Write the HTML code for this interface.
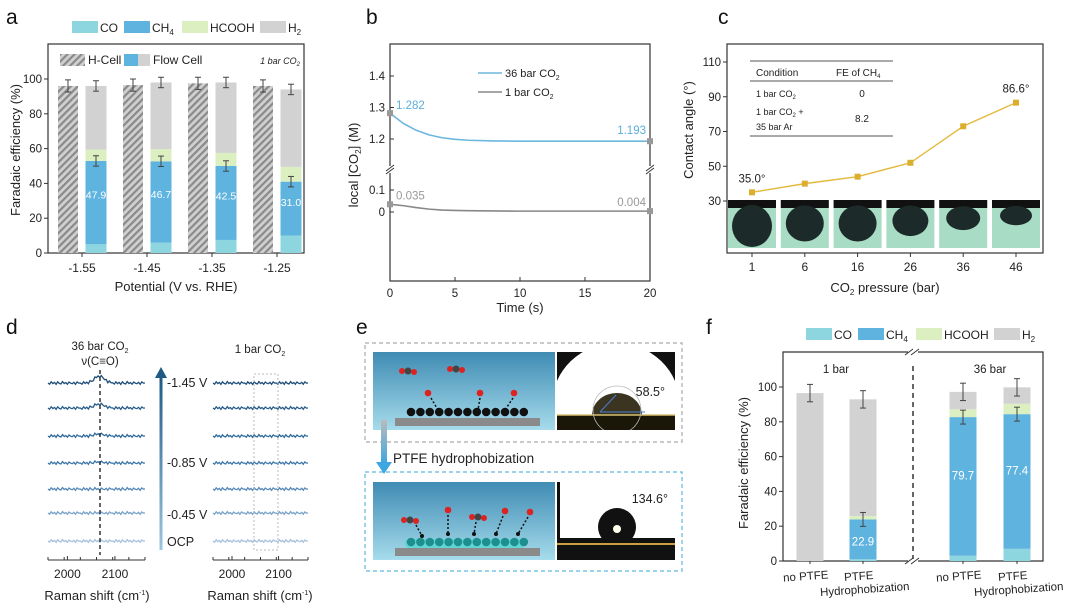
<!DOCTYPE html>
<html><head><meta charset="utf-8"><style>
html,body{margin:0;padding:0;background:#fff;width:1080px;height:613px;overflow:hidden}
svg{display:block;font-family:"Liberation Sans",sans-serif}
</style></head><body>
<svg id="fig" width="1080" height="613" viewBox="0 0 1080 613" xmlns="http://www.w3.org/2000/svg">
<defs>
<pattern id="hatch" width="5" height="5" patternUnits="userSpaceOnUse" patternTransform="rotate(45)">
<rect width="5" height="5" fill="#d0d0d0"/><rect width="2.2" height="5" fill="#8a8a8a"/></pattern>
<linearGradient id="bluebg" x1="0" y1="0" x2="0" y2="1"><stop offset="0" stop-color="#3f8bb3"/><stop offset="1" stop-color="#a6dcec"/></linearGradient>
<linearGradient id="arrowg" x1="0" y1="0" x2="0" y2="1"><stop offset="0" stop-color="#bbb"/><stop offset="1" stop-color="#3ea6e0"/></linearGradient>
<linearGradient id="upg" x1="0" y1="1" x2="0" y2="0"><stop offset="0" stop-color="#9cc6e0"/><stop offset="1" stop-color="#1f5a85"/></linearGradient>
<clipPath id="clip1"><rect x="557" y="352" width="118" height="78"/></clipPath>
<clipPath id="clip2"><rect x="557" y="482" width="118" height="78"/></clipPath>
</defs>
<g id="root"></g>
</svg>
<script>
// ---------- DATA ----------
const aCats=["-1.55","-1.45","-1.35","-1.25"];
const aHcell=[96,96.5,97.5,96];
const aCO=[5,6,7.5,10];
const aCH4=[47.9,46.7,42.5,31.0];
const aHCOOH=[6.5,7,7.5,8.5];
const aH2=[36.6,38.3,40.5,44.5];
const aTicks=[0,20,40,60,80,100];

const bT=[0,1,2,3,4,5,6,8,10,12,15,20];
const b36=[1.282,1.250,1.228,1.213,1.204,1.199,1.196,1.194,1.193,1.193,1.193,1.193];
const b1=[0.035,0.029,0.020,0.013,0.009,0.007,0.006,0.005,0.004,0.004,0.004,0.004];
const bXTicks=[0,5,10,15,20];

const cCats=["1","6","16","26","36","46"];
const cAngle=[35.0,40,44,52,73,86.6];
const cTicks=[30,50,70,90,110];

const dLabels=["-1.45 V","","","-0.85 V","","-0.45 V","OCP"];
const dNoise=[0,1,-1,0.5,-0.5,1.2,-1,0.3,0.8,-1.2,0.4,-0.3,1,-0.8,0.2,0.6,-0.6,1.1,-0.9,0.1];

const fCats=["no PTFE","PTFE","no PTFE","PTFE"];
const fCO=[0,1,3,7];
const fCH4=[0,22.9,79.7,77.4];
const fHCOOH=[0,2,4.5,6];
const fH2=[96.5,67,10,9.4];
const fTicks=[0,20,40,60,80,100];

const COL={CO:"#8dd5df",CH4:"#5fb3df",HCOOH:"#dcefc0",H2:"#d2d2d2"};
// ---------- helpers ----------
const NS="http://www.w3.org/2000/svg";
const root=document.getElementById('root');
function mk(tag,attrs,parent,txt){const e=document.createElementNS(NS,tag);for(const k in attrs)e.setAttribute(k,attrs[k]);if(txt!==undefined)e.textContent=txt;(parent||root).appendChild(e);return e;}
function T(x,y,s,size,anchor,fill,name,extra){const e=mk('text',Object.assign({x:x,y:y,'font-size':size||11,'text-anchor':anchor||'middle',fill:fill||'#222'},extra||{}));e.innerHTML=s;


return e;}
function letter(x,y,s){T(x,y,s,21,'start','#111','panel-letter-'+s);}
function legend(x,y,name){const items=[["CO",COL.CO,22],["CH<tspan font-size='8' dy='3'>4</tspan>",COL.CH4,28],["HCOOH",COL.HCOOH,48],["H<tspan font-size='8' dy='3'>2</tspan>",COL.H2,16]];
let cx=x;items.forEach((it,i)=>{const r=mk('rect',{x:cx,y:y-10,width:26,height:12,fill:it[1]});


T(cx+28,y+1,it[0],12,'start','#222',name+'-entry');cx+=28+it[2]+2;});}
function stack(x,w,yf,vals,cols,name){let acc=0;vals.forEach((v,i)=>{if(v<=0)return;const r=mk('rect',{x:x-w/2,y:yf(acc+v),width:w,height:yf(acc)-yf(acc+v),fill:cols[i]});

acc+=v;});}
function err(x,y1,y2){mk('line',{x1:x,x2:x,y1:y1,y2:y2,stroke:'#444','stroke-width':1});mk('line',{x1:x-3,x2:x+3,y1:y1,y2:y1,stroke:'#444'});mk('line',{x1:x-3,x2:x+3,y1:y2,y2:y2,stroke:'#444'});}

// ---------- Panel a ----------
letter(6,24,'a');
legend(72,31,'legend-a');
(function(){const L=48,R=304,Tp=44,B=253;const yf=v=>253-v*1.74;
const box=mk('rect',{x:L,y:Tp,width:R-L,height:B-Tp,fill:'none',stroke:'#333','stroke-width':1.2});

aTicks.forEach(t=>{mk('line',{x1:L-4,x2:L,y1:yf(t),y2:yf(t),stroke:'#333'});T(L-6,yf(t)+4,t,11.5,'end','#222','y-tick-a');});
mk('rect',{x:60,y:54,width:25,height:12,fill:'url(#hatch)'});T(88,64,'H-Cell',12,'start','#222','legend-hcell');
mk('rect',{x:124,y:54,width:14,height:12,fill:COL.CH4});mk('rect',{x:138,y:54,width:12,height:12,fill:COL.H2});T(153,64,'Flow Cell',12,'start','#222','legend-flowcell');
T(300,64,'<tspan font-style="italic">1 bar CO<tspan font-size="6" dy="2">2</tspan></tspan>',9,'end','#222','condition-note');
aCats.forEach((c,i)=>{const gc=82+i*65;const hx=gc-14,fx=gc+14;
const h=mk('rect',{x:hx-10,y:yf(aHcell[i]),width:20,height:yf(0)-yf(aHcell[i]),fill:'url(#hatch)'});

stack(fx,21,yf,[aCO[i],aCH4[i],aHCOOH[i],aH2[i]],[COL.CO,COL.CH4,COL.HCOOH,COL.H2],'bar-flow-'+c);
err(hx,yf(aHcell[i]+3.5),yf(aHcell[i]-3.5));
const tot=aCO[i]+aCH4[i]+aHCOOH[i]+aH2[i];err(fx,yf(tot+3),yf(tot-3));
const ct=aCO[i]+aCH4[i];err(fx,yf(ct+3),yf(ct-3));
T(fx,yf(aCO[i]+aCH4[i]*0.55),aCH4[i].toFixed(1),10.5,'middle','#fff','ch4-value');
mk('line',{x1:gc,x2:gc,y1:B,y2:B+4,stroke:'#333'});T(gc,B+19,c,12,'middle','#222','x-tick-a');});
T(176,291,'Potential (V vs. RHE)',13,'middle','#222','x-axis-title-a');
T(0,0,'Faradaic efficiency (%)',13,'middle','#222','y-axis-title-a',{transform:'translate(20,150) rotate(-90)'});
})();

// ---------- Panel b ----------
letter(366,24,'b');
(function(){const L=390,R=650,Tp=44,B=281;const xf=t=>L+t*13;
const yU=v=>139-(v-1.2)*315, yL=v=>212-v*220;
const box=mk('rect',{x:L,y:Tp,width:R-L,height:B-Tp,fill:'none',stroke:'#333','stroke-width':1.2});

mk('rect',{x:L-5,y:166,width:R-L+10,height:7,fill:'#fff'});
[L,R].forEach(x=>{mk('line',{x1:x-4,x2:x+4,y1:171,y2:165,stroke:'#333'});mk('line',{x1:x-4,x2:x+4,y1:174,y2:168,stroke:'#333'});});
[[1.4,'1.4'],[1.3,'1.3'],[1.2,'1.2']].forEach(t=>{mk('line',{x1:L,x2:L+4,y1:yU(t[0]),y2:yU(t[0]),stroke:'#333'});T(L-5,yU(t[0])+4,t[1],11.5,'end','#222','y-tick-b');});
[[0.1,'0.1'],[0,'0']].forEach(t=>{mk('line',{x1:L,x2:L+4,y1:yL(t[0]),y2:yL(t[0]),stroke:'#333'});T(L-5,yL(t[0])+4,t[1],11.5,'end','#222','y-tick-b');});
bXTicks.forEach(t=>{mk('line',{x1:xf(t),x2:xf(t),y1:B,y2:B-4,stroke:'#333'});T(xf(t),B+16,t,11.5,'middle','#222','x-tick-b');});
const p1=mk('path',{d:bT.map((t,i)=>(i?'L':'M')+xf(t)+','+yU(b36[i])).join(''),fill:'none',stroke:'#6bb8df','stroke-width':1.6});

const p2=mk('path',{d:bT.map((t,i)=>(i?'L':'M')+xf(t)+','+yL(b1[i])).join(''),fill:'none',stroke:'#888','stroke-width':1.6});

[[0,yU(b36[0])],[20,yU(b36[b36.length-1])],[0,yL(b1[0])],[20,yL(b1[b1.length-1])]].forEach(p=>mk('rect',{x:xf(p[0])-3,y:p[1]-3,width:6,height:6,fill:'#999'}));
T(xf(0)+6,yU(b36[0])-4,b36[0].toFixed(3),11.5,'start','#5aaedc','label-36-start');
T(xf(20)-4,yU(b36[b36.length-1])-7,b36[b36.length-1].toFixed(3),11.5,'end','#5aaedc','label-36-end');
T(xf(0)+6,yL(b1[0])-5,b1[0].toFixed(3),11.5,'start','#999','label-1-start');
T(xf(20)-4,yL(b1[b1.length-1])-5,b1[b1.length-1].toFixed(3),11.5,'end','#999','label-1-end');
mk('line',{x1:478,x2:502,y1:73,y2:73,stroke:'#6bb8df','stroke-width':1.6});T(505,77,'36 bar CO<tspan font-size="7" dy="3">2</tspan>',11,'start','#222','legend-36bar');
mk('line',{x1:478,x2:502,y1:92,y2:92,stroke:'#888','stroke-width':1.6});T(505,96,'1 bar CO<tspan font-size="7" dy="3">2</tspan>',11,'start','#222','legend-1bar');
T(520,312,'Time (s)',13,'middle','#222','x-axis-title-b');
T(0,0,'local [CO<tspan font-size="8" dy="3">2</tspan><tspan dy="-3">] (M)</tspan>',13,'middle','#222','y-axis-title-b',{transform:'translate(358,165) rotate(-90)'});
})();

// ---------- Panel c ----------
letter(718,24,'c');
(function(){const L=727,R=1043,Tp=44,B=253;const yf=v=>201-(v-30)*1.7375;const xf=i=>752+i*52.8;
const box=mk('rect',{x:L,y:Tp,width:R-L,height:B-Tp,fill:'none',stroke:'#333','stroke-width':1.2});

cTicks.forEach(t=>{mk('line',{x1:L-4,x2:L,y1:yf(t),y2:yf(t),stroke:'#333'});T(L-6,yf(t)+4,t,11.5,'end','#222','y-tick-c');});
cCats.forEach((c,i)=>{const x=xf(i);
const g=mk('g',{});
mk('rect',{x:x-24,y:200,width:48,height:48,fill:'#a8dcc4'},g);mk('rect',{x:x-24,y:200,width:48,height:8,fill:'#111'},g);
const r=[20,19,19,18,17,16][i];mk('ellipse',{cx:x,cy:208+r*0.6+[6,4,4,2,0,-2][i],rx:r,ry:r*[1.05,0.95,0.95,0.85,0.7,0.6][i],fill:'#1d2a2a'},g);
mk('line',{x1:x,x2:x,y1:B,y2:B+4,stroke:'#333'});T(x,B+18,c,12,'middle','#222','x-tick-c');});
const p=mk('path',{d:cAngle.map((v,i)=>(i?'L':'M')+xf(i)+','+yf(v)).join(''),fill:'none',stroke:'#e3b93b','stroke-width':1.4});

cAngle.forEach((v,i)=>{const m=mk('rect',{x:xf(i)-3,y:yf(v)-3,width:6,height:6,fill:'#dcae2e'});
});
T(xf(0),yf(cAngle[0])-10,cAngle[0].toFixed(1)+'°',11.5,'middle','#222','label-first');
T(xf(5),yf(cAngle[5])-10,cAngle[5].toFixed(1)+'°',11.5,'middle','#222','label-last');
mk('line',{x1:750,x2:893,y1:61,y2:61,stroke:'#555','stroke-width':1});mk('line',{x1:750,x2:893,y1:81,y2:81,stroke:'#555'});mk('line',{x1:750,x2:893,y1:136,y2:136,stroke:'#555'});
T(756,76,'Condition',10,'start','#222','table-header-condition');T(836,76,'FE of CH<tspan font-size="6" dy="2">4</tspan>',10,'start','#222','table-header-fe');
T(756,97,'1 bar CO<tspan font-size="6" dy="2">2</tspan>',9,'start','#222','table-row1');T(862,97,'0',10,'middle','#222','table-val1');
T(756,115,'1 bar CO<tspan font-size="6" dy="2">2</tspan><tspan dy="-2"> +</tspan>',9,'start','#222','table-row2');T(756,130,'35 bar Ar',9,'start','#222','table-row2b');T(862,122,'8.2',10,'middle','#222','table-val2');
T(885,292,'CO<tspan font-size="8" dy="3">2</tspan><tspan dy="-3"> pressure (bar)</tspan>',13,'middle','#222','x-axis-title-c');
T(0,0,'Contact angle (°)',13,'middle','#222','y-axis-title-c',{transform:'translate(693,130) rotate(-90)'});
})();

// ---------- Panel d ----------
letter(6,334,'d');
(function(){const base=[383,408,436,463,489,513,541];const cols=['#1f4e79','#275d8c','#2f6a9c','#3d78aa','#5588b8','#7aa2c9','#a6c2dd'];
function spec(x0,x1,peak,name){base.forEach((y,i)=>{let d='';const n=60;for(let k=0;k<=n;k++){const x=x0+(x1-x0)*k/n;const xc=x0+(x1-x0)*0.53;
let pk=peak?peak[i]*Math.exp(-Math.pow((x-xc)/7,2)):0;const yy=y+dNoise[k%dNoise.length]*1.2-pk;d+=(k?'L':'M')+x.toFixed(1)+','+yy.toFixed(1);}
const p=mk('path',{d:d,fill:'none',stroke:cols[i],'stroke-width':1.3});
});
mk('line',{x1:x0,x2:x1,y1:560,y2:560,stroke:'#333'});
[[2000,x0+(x1-x0)*0.2],[2100,x0+(x1-x0)*0.69]].forEach(t=>{mk('line',{x1:t[1],x2:t[1],y1:560,y2:556,stroke:'#333'});T(t[1],578,t[0],12,'middle','#222','x-tick-d');});
for(let k=0;k<=6;k++){const x=x0+(x1-x0)*k/6;mk('line',{x1:x,x2:x,y1:560,y2:557,stroke:'#333'});}}
spec(48,145,[7,4,2,1,0,0,0],'left');spec(213,308,null,'right');
mk('line',{x1:100,x2:100,y1:370,y2:555,stroke:'#333','stroke-width':1.5,'stroke-dasharray':'4,3'});
mk('rect',{x:254,y:374,width:24,height:176,fill:'none',stroke:'#bbb','stroke-dasharray':'2,2'});
mk('rect',{x:159.5,y:376,width:3,height:174,fill:'url(#upg)'});mk('path',{d:'M155,378 L161,367 L167,378 Z',fill:'#1f5a85'});
dLabels.forEach((s,i)=>{if(s)T(167,[387,0,0,467,0,519,546][i],s,12.5,'start','#222','potential-label');});
T(100,350,'36 bar CO<tspan font-size="7" dy="3">2</tspan>',11.5,'middle','#222','title-36bar');
T(100,365,'ν(C≡O)',11.5,'middle','#222','peak-label');
T(260,353,'1 bar CO<tspan font-size="7" dy="3">2</tspan>',11.5,'middle','#222','title-1bar');
T(97,600,'Raman shift (cm<tspan font-size="7" dy="-5">-1</tspan><tspan dy="5">)</tspan>',13,'middle','#222','x-axis-title-d-left');
T(260,600,'Raman shift (cm<tspan font-size="7" dy="-5">-1</tspan><tspan dy="5">)</tspan>',13,'middle','#222','x-axis-title-d-right');
})();

// ---------- Panel e ----------
letter(356,334,'e');
(function(){
function scheme(y,teal,name){const g=mk('g',{});
mk('rect',{x:373,y:y,width:182,height:78,fill:'url(#bluebg)'},g);
mk('rect',{x:395,y:y+66,width:145,height:8,fill:'#8a8a8a'},g);
if(teal)mk('rect',{x:405,y:y+57,width:120,height:9,rx:4,fill:'#5fd5d5'},g);
for(let k=0;k<13;k++)mk('circle',{cx:411+k*9.4,cy:y+60,r:4.3,fill:teal?'#1f8e8e':'#111'},g);
return g;}
const g1=scheme(352,false,'scheme-untreated');const g2=scheme(482,true,'scheme-ptfe');
function mol(x,y,g){mk('circle',{cx:x-6,cy:y,r:3,fill:'#d22'},g);mk('circle',{cx:x,cy:y,r:3.5,fill:'#444'},g);mk('circle',{cx:x+6,cy:y+1,r:3,fill:'#d22'},g);}
function wat(x,y,g){mk('circle',{cx:x,cy:y,r:3.3,fill:'#d22'},g);}
function arr(x1,y1,x2,y2,g){mk('line',{x1:x1,y1:y1,x2:x2,y2:y2,stroke:'#111','stroke-width':1.5,'stroke-dasharray':'2,2'},g);mk('circle',{cx:x2,cy:y2,r:2,fill:'#111'},g);}
mol(408,371,g1);mol(456,369,g1);wat(428,393,g1);wat(480,393,g1);wat(514,393,g1);arr(431,398,438,410,g1);arr(480,398,478,410,g1);arr(513,398,505,410,g1);
mol(410,520,g2);mol(478,517,g2);wat(448,510,g2);wat(505,511,g2);wat(530,512,g2);arr(416,525,422,536,g2);arr(448,515,448,534,g2);arr(476,522,474,534,g2);arr(503,516,496,534,g2);arr(528,517,518,534,g2);
const ph1=mk('g',{'clip-path':'url(#clip1)'});
mk('rect',{x:557,y:352,width:118,height:78,fill:'#111'},ph1);mk('ellipse',{cx:616,cy:405,rx:64,ry:62,fill:'#fff'},ph1);
mk('rect',{x:557,y:415,width:118,height:15,fill:'#1a1608'},ph1);
mk('path',{d:'M592,415 A25,22 0 0 1 642,415 Z',fill:'#3a3420'},ph1);mk('line',{x1:557,x2:675,y1:415,y2:415,stroke:'#d8c070','stroke-width':1.5},ph1);
mk('circle',{cx:617,cy:410,r:24,fill:'none',stroke:'#bbb','stroke-width':0.8},ph1);
mk('line',{x1:600,y1:412,x2:616,y2:395,stroke:'#4a7fd0','stroke-width':1},ph1);mk('line',{x1:600,y1:412,x2:645,y2:412,stroke:'#4a7fd0','stroke-width':1},ph1);
T(665,396,'58.5°',12.5,'end','#222','angle-58');
const ph2=mk('g',{'clip-path':'url(#clip2)'});
mk('rect',{x:557,y:482,width:118,height:78,fill:'#111'},ph2);mk('rect',{x:560,y:482,width:115,height:56,fill:'#fff'},ph2);
mk('circle',{cx:617,cy:527,r:19,fill:'#111'},ph2);mk('circle',{cx:617,cy:529,r:4,fill:'#ffe'},ph2);
mk('line',{x1:557,x2:675,y1:544,y2:544,stroke:'#c9a040','stroke-width':2},ph2);
T(668,503,'134.6°',12.5,'end','#222','angle-134');
const b1=mk('rect',{x:365,y:343,width:317,height:99,fill:'none',stroke:'#aaa','stroke-width':1.2,'stroke-dasharray':'4,3'});

const b2=mk('rect',{x:365,y:472,width:317,height:99,fill:'none',stroke:'#5ab8e0','stroke-width':1.2,'stroke-dasharray':'4,3'});

mk('rect',{x:381,y:420,width:6,height:44,fill:'url(#arrowg)'});mk('path',{d:'M376,462 L384,474 L392,462 Z',fill:'#3ea6e0'});
T(393,463,'PTFE hydrophobization',13.5,'start','#222','ptfe-label');
})();

// ---------- Panel f ----------
letter(706,334,'f');
legend(806,338,'legend-f');
(function(){const L=783,R=1043,Tp=352,B=561;const yf=v=>561-v*1.74;const xs=[810,863,963,1017];
mk('path',{d:`M${L},${Tp} H${R} V${B} H${L} Z`,fill:'none',stroke:'#333','stroke-width':1.2});
mk('rect',{x:908,y:Tp-4,width:10,height:8,fill:'#fff'});mk('rect',{x:908,y:B-4,width:10,height:8,fill:'#fff'});
[Tp,B].forEach(y=>{mk('line',{x1:905,x2:913,y1:y+3,y2:y-3,stroke:'#333'});mk('line',{x1:911,x2:919,y1:y+3,y2:y-3,stroke:'#333'});});
mk('line',{x1:913,x2:913,y1:Tp+14,y2:B-2,stroke:'#333','stroke-width':1.5,'stroke-dasharray':'5,4'});
fTicks.forEach(t=>{mk('line',{x1:L-4,x2:L,y1:yf(t),y2:yf(t),stroke:'#333'});T(L-6,yf(t)+4,t,11.5,'end','#222','y-tick-f');});
xs.forEach((x,i)=>{stack(x,27,yf,[fCO[i],fCH4[i],fHCOOH[i],fH2[i]],[COL.CO,COL.CH4,COL.HCOOH,COL.H2],'bar-f-'+i);
const tot=fCO[i]+fCH4[i]+fHCOOH[i]+fH2[i];err(x,yf(tot+5),yf(tot-5));
if(fCH4[i]>0){const ct=fCO[i]+fCH4[i];err(x,yf(ct+4),yf(ct-4));T(x,yf(fCO[i]+fCH4[i]*(i==1?0.35:0.55)),fCH4[i].toFixed(1),11.5,'middle','#fff','ch4-value-f');}
mk('line',{x1:x,x2:x,y1:B,y2:B+3,stroke:'#333'});
T(0,0,fCats[i],11.5,'middle','#222','x-tick-f',{transform:`translate(${x-4},${B+19}) rotate(-4)`});
if(i%2==1)T(0,0,'Hydrophobization',11.5,'middle','#222','x-tick-f2',{transform:`translate(${x+2},${B+32}) rotate(-4)`});});
T(836,373,'1 bar',11.5,'middle','#222','group-1bar');T(990,373,'36 bar',11.5,'middle','#222','group-36bar');
T(0,0,'Faradaic efficiency (%)',13,'middle','#222','y-axis-title-f',{transform:'translate(748,463) rotate(-90)'});
})();
</script>
</body></html>
